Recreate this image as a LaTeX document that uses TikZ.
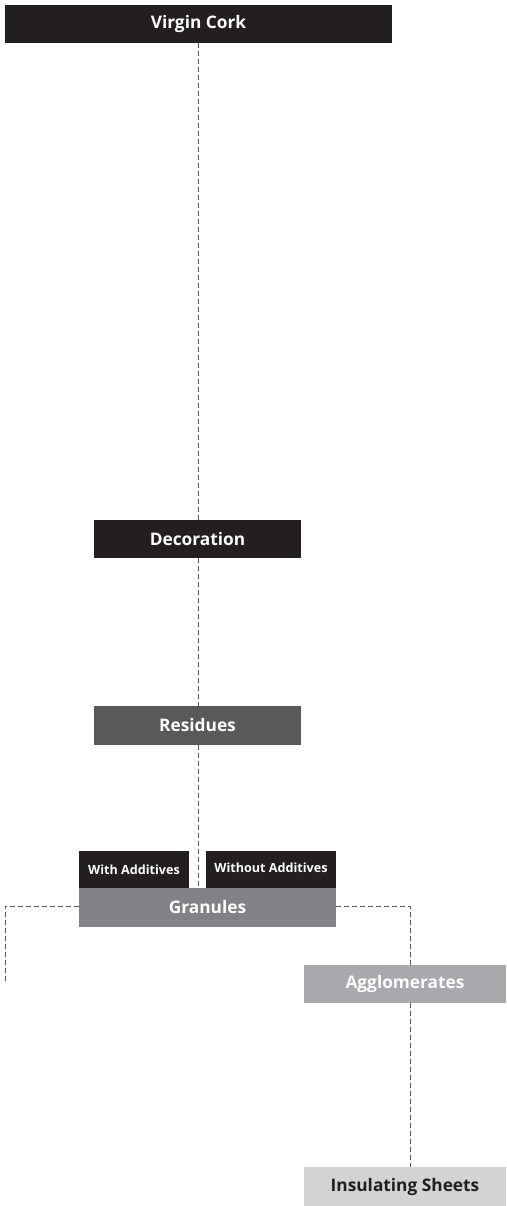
\documentclass[tikz,border=0pt]{standalone}
\usepackage{fontspec}
\setmainfont{Open Sans}
\definecolor{cblack}{HTML}{231F20}
\definecolor{cres}{HTML}{58595B}
\definecolor{cgran}{HTML}{808285}
\definecolor{cagg}{HTML}{A7A9AC}
\definecolor{cins}{HTML}{D1D3D4}
\definecolor{cline}{HTML}{58595B}
\begin{document}
\begin{tikzpicture}[x=1pt,y=-1pt,
  box/.style={inner sep=0pt, outer sep=0pt, text=white, font=\bfseries\fontsize{17.3}{19}\selectfont, minimum height=38pt},
  smallbox/.style={box, fill=cblack, font=\bfseries\fontsize{12.6}{14}\selectfont, minimum height=37pt},
  conn/.style={draw=cline, line width=0.9pt, dash pattern=on 5pt off 3pt}]
\useasboundingbox (0,0) rectangle (506,1206);
\node[box, fill=cblack, minimum width=387pt] (virgin) at (198.5,24) {Virgin Cork};
\node[box, fill=cblack, minimum width=207pt] (deco) at (197.5,539) {Decoration};
\node[box, fill=cres, minimum width=207pt, minimum height=39pt] (res) at (197.5,725.5) {Residues};
\node[smallbox, minimum width=110pt] (with) at (134,869.5) {With Additives};
\node[smallbox, minimum width=130pt, text depth=3pt] (without) at (271,869.5) {Without Additives};
\node[box, fill=cgran, minimum width=257pt, minimum height=39pt] (gran) at (207.5,907.5) {Granules};
\node[box, fill=cagg, minimum width=202pt] (agg) at (405,984) {Agglomerates};
\node[box, fill=cins, text=cblack, minimum width=202pt, minimum height=39pt] (ins) at (405,1186.5) {Insulating Sheets};
\coordinate (lcorner) at (5,906);
\coordinate (lend) at (5,983);
\coordinate (rcorner) at (410,906);
\draw[conn] (virgin.south -| 198,0) -- (deco.north -| 198,0);
\draw[conn] (deco.south -| 198,0) -- (res.north -| 198,0);
\draw[conn] (res.south -| 198,0) -- (gran.north -| 198,0);
\draw[conn] (gran.west |- lcorner) -- (lcorner) -- (lend);
\draw[conn] (gran.east |- rcorner) -- (rcorner) -- (agg.north -| rcorner);
\draw[conn] (agg.south -| rcorner) -- (ins.north -| rcorner);
\end{tikzpicture}
\end{document}
